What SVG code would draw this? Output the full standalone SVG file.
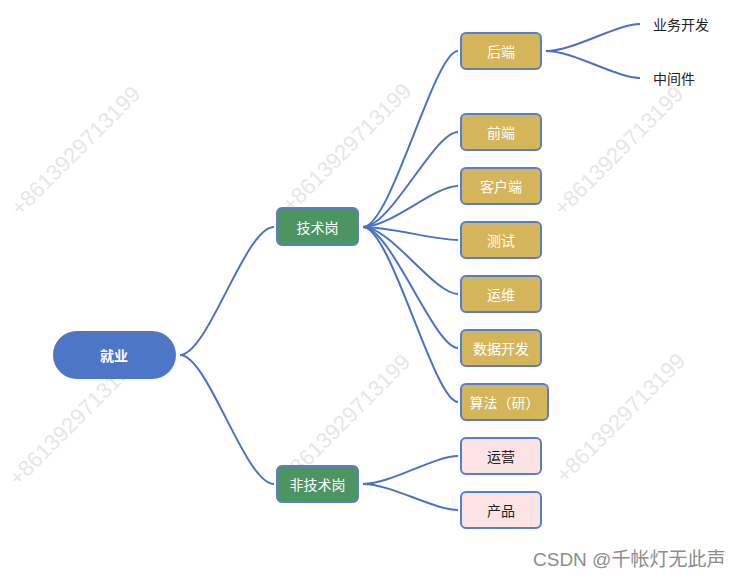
<svg xmlns="http://www.w3.org/2000/svg" width="739" height="580" viewBox="0 0 739 580">
<style>
.wm{font-family:"Liberation Sans","Noto Sans",sans-serif;font-size:22px;fill:#e6e6e6}
.lbl{font-family:"Noto Sans CJK SC","Noto Sans",sans-serif;font-size:14px;text-anchor:middle;dominant-baseline:central}
.w{fill:#ffffff}
.d{fill:#222222}
.gold{fill:#d5b55a;stroke:#5a7ec6;stroke-width:2}
.green{fill:#4c9563;stroke:#5a7ec6;stroke-width:2}
.pink{fill:#fde3e3;stroke:#5a7ec6;stroke-width:2}
.c{fill:none;stroke:#4a72c4;stroke-width:2}
</style>
<rect width="739" height="580" fill="#ffffff"/>
<g id="watermarks">
<text class="wm" transform="translate(20,217) rotate(-45)">+8613929713199</text>
<text class="wm" transform="translate(291,214) rotate(-45)">+8613929713199</text>
<text class="wm" transform="translate(563,217) rotate(-45)">+8613929713199</text>
<text class="wm" transform="translate(18,487) rotate(-45)">+8613929713199</text>
<text class="wm" transform="translate(290,485) rotate(-45)">+8613929713199</text>
<text class="wm" transform="translate(565,484) rotate(-45)">+8613929713199</text>
</g>
<g id="connectors">
<path class="c" d="M180,355 C208,355 245,227 274,227"/>
<path class="c" d="M180,355 C208,355 245,484 274,484"/>
<path class="c" d="M363,227 C391,227 434,51 458,51"/>
<path class="c" d="M363,227 C391,227 434,132 458,132"/>
<path class="c" d="M363,227 C391,227 434,186 458,186"/>
<path class="c" d="M363,227 C391,227 434,240 458,240"/>
<path class="c" d="M363,227 C391,227 434,294 458,294"/>
<path class="c" d="M363,227 C391,227 434,348 458,348"/>
<path class="c" d="M363,227 C391,227 434,402 458,402"/>
<path class="c" d="M363,484 C391,484 434,456 458,456"/>
<path class="c" d="M363,484 C391,484 434,510 458,510"/>
<path class="c" d="M546,51 C574,51 616,24 640,24"/>
<path class="c" d="M546,51 C574,51 616,78 640,78"/>
</g>
<g id="root">
<rect x="53" y="331" width="123" height="48" rx="24" fill="#4e76c6"/>
<text class="lbl w" x="114" y="355" font-weight="bold">就业</text>
</g>
<g id="tech">
<rect class="green" x="277" y="208" width="81" height="37" rx="5"/>
<text class="lbl w" x="317.5" y="226.5">技术岗</text>
</g>
<g id="nontech">
<rect class="green" x="277" y="466" width="81" height="36" rx="5"/>
<text class="lbl w" x="317.5" y="484">非技术岗</text>
</g>
<g id="backend">
<rect class="gold" x="461" y="33" width="80" height="36" rx="5"/>
<text class="lbl w" x="501" y="51">后端</text>
</g>
<g id="frontend">
<rect class="gold" x="461" y="114" width="80" height="36" rx="5"/>
<text class="lbl w" x="501" y="132">前端</text>
</g>
<g id="client">
<rect class="gold" x="461" y="168" width="80" height="36" rx="5"/>
<text class="lbl w" x="501" y="186">客户端</text>
</g>
<g id="test">
<rect class="gold" x="461" y="222" width="80" height="36" rx="5"/>
<text class="lbl w" x="501" y="240">测试</text>
</g>
<g id="ops">
<rect class="gold" x="461" y="276" width="80" height="36" rx="5"/>
<text class="lbl w" x="501" y="294">运维</text>
</g>
<g id="data">
<rect class="gold" x="461" y="330" width="80" height="36" rx="5"/>
<text class="lbl w" x="501" y="348">数据开发</text>
</g>
<g id="algo">
<rect class="gold" x="461" y="384" width="87" height="36" rx="5"/>
<text class="lbl w" x="504.5" y="402">算法（研）</text>
</g>
<g id="operation">
<rect class="pink" x="461" y="438" width="80" height="36" rx="5"/>
<text class="lbl d" x="501" y="456">运营</text>
</g>
<g id="product">
<rect class="pink" x="461" y="492" width="80" height="36" rx="5"/>
<text class="lbl d" x="501" y="510">产品</text>
</g>
<g id="bizdev">
<text class="lbl d" x="653" y="24" style="text-anchor:start">业务开发</text>
</g>
<g id="middleware">
<text class="lbl d" x="653" y="78" style="text-anchor:start">中间件</text>
</g>
<text x="533" y="566" font-family="'Liberation Sans','Noto Sans CJK SC',sans-serif" font-size="19" fill="#8c8c8c">CSDN @千帐灯无此声</text>
</svg>
